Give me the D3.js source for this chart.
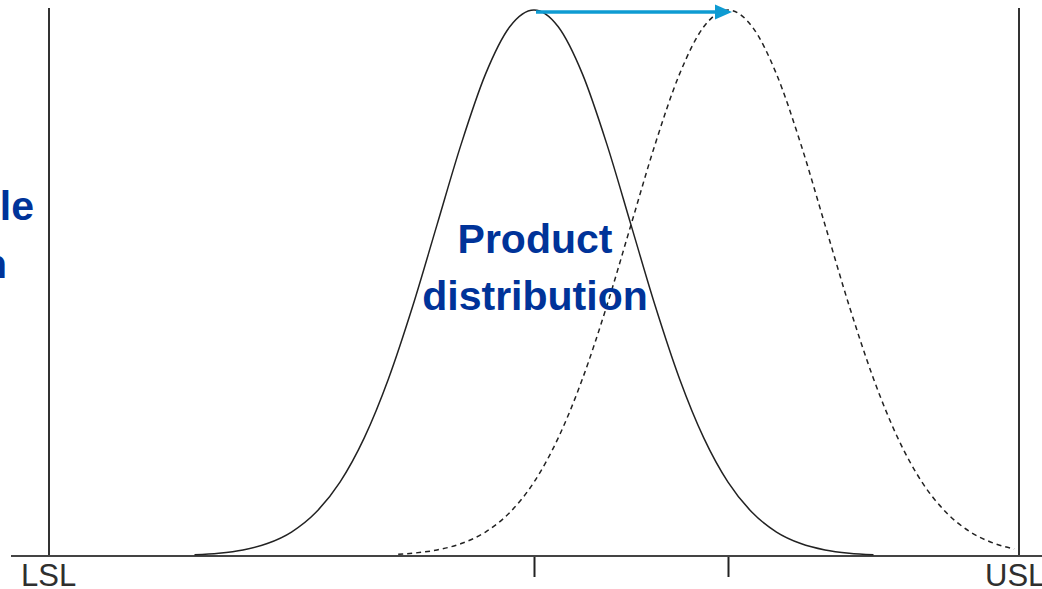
<!DOCTYPE html>
<html><head><meta charset="utf-8">
<script src="https://cdn.jsdelivr.net/npm/d3@7"></script>
<style>html,body{margin:0;padding:0;background:#fff;overflow:hidden}</style>
</head><body>
<svg id="c" width="1042" height="589"></svg>
<script>
// Data (x in spec units, LSL = 0, USL = 100; y = relative density height)
const specLimits = [0, 100];
const specLabels = ["LSL", "USL"];
const means = [50, 70];
const solidX = [15,17.5,20,22.5,25,27.5,30,32.5,35,37.5,40,42.5,45,47.5,50,52.5,55,57.5,60,62.5,65,67.5,70,72.5,75,77.5,80,82.5,85];
const solidY = [0.0022,0.0051,0.0111,0.0228,0.0439,0.0796,0.1353,0.2163,0.3247,0.4578,0.6065,0.7548,0.8825,0.9692,1,0.9692,0.8825,0.7548,0.6065,0.4578,0.3247,0.2163,0.1353,0.0796,0.0439,0.0228,0.0111,0.0051,0.0022];
const dashedX = [36,37.5,40,42.5,45,47.5,50,52.5,55,57.5,60,62.5,65,67.5,70,72.5,75,77.5,80,82.5,85,87.5,90,92.5,95,97.5,99.5];
const dashedY = [0.0031,0.0051,0.0111,0.0228,0.0439,0.0796,0.1353,0.2163,0.3247,0.4578,0.6065,0.7548,0.8825,0.9692,1,0.9692,0.8825,0.7548,0.6065,0.4578,0.3247,0.2163,0.1353,0.0796,0.0439,0.0228,0.0129];
const centerLabel = ["Product", "distribution"];
const leftLabel = ["Acceptable", "region"];

const svg = d3.select("#c");
const x = d3.scaleLinear().domain([0, 100]).range([49, 1019]);
const y = d3.scaleLinear().domain([0, 1]).range([556, 10]);

// spec limit verticals
svg.selectAll("line.spec").data(specLimits).join("line")
  .attr("x1", d => x(d)).attr("x2", d => x(d))
  .attr("y1", 8).attr("y2", 556)
  .attr("stroke", "#333").attr("stroke-width", 2);

// baseline axis with ticks at means
const axis = d3.axisBottom(x).tickValues(means).tickSize(21).tickFormat("");
const ag = svg.append("g").attr("transform", "translate(0,556)").call(axis);
ag.select(".domain").remove();
ag.selectAll(".tick line").attr("stroke", "#222").attr("stroke-width", 2);
svg.append("line").attr("x1", 11).attr("x2", 1042).attr("y1", 556).attr("y2", 556)
  .attr("stroke", "#444").attr("stroke-width", 2);

// curves
const line = d3.line().x(d => x(d[0])).y(d => y(d[1])).curve(d3.curveMonotoneX);
svg.append("path").datum(d3.zip(solidX, solidY)).attr("d", line)
  .attr("fill", "none").attr("stroke", "#222").attr("stroke-width", 1.5);
svg.append("path").datum(d3.zip(dashedX, dashedY)).attr("d", line)
  .attr("fill", "none").attr("stroke", "#222").attr("stroke-width", 1.5)
  .attr("stroke-dasharray", "5,4");

// shift arrow
const ac = "#0e9bd2";
const ay = y(1) + 2;
svg.append("line").attr("x1", x(means[0]) + 2).attr("x2", x(means[1]) - 12)
  .attr("y1", ay).attr("y2", ay).attr("stroke", ac).attr("stroke-width", 3.5);
const tip = x(means[1]) + 4;
svg.append("path")
  .attr("d", `M${tip},${ay} L${tip - 17},${ay - 7.5} L${tip - 17},${ay + 7.5} Z`)
  .attr("fill", ac);

// limit labels
svg.selectAll("text.lim").data(specLabels).join("text")
  .attr("x", (d, i) => i === 0 ? 21 : 985).attr("y", 586)
  .attr("font-family", "Liberation Sans, Arial, sans-serif").attr("font-size", 31)
  .attr("fill", "#2f2f2f").text(d => d);

// center label
svg.selectAll("text.center").data(centerLabel).join("text")
  .attr("x", 535).attr("y", (d, i) => 253 + i * 57)
  .attr("text-anchor", "middle")
  .attr("font-family", "Liberation Sans, Arial, sans-serif").attr("font-weight", "bold")
  .attr("font-size", 41).attr("fill", "#003399").text(d => d);

// left (clipped) label
svg.selectAll("text.left").data(leftLabel).join("text")
  .attr("x", (d, i) => i === 0 ? 34 : 7).attr("y", (d, i) => i === 0 ? 220 : 278)
  .attr("text-anchor", "end")
  .attr("font-family", "Liberation Sans, Arial, sans-serif").attr("font-weight", "bold")
  .attr("font-size", 41).attr("fill", "#003399").text(d => d);
</script>
</body></html>
